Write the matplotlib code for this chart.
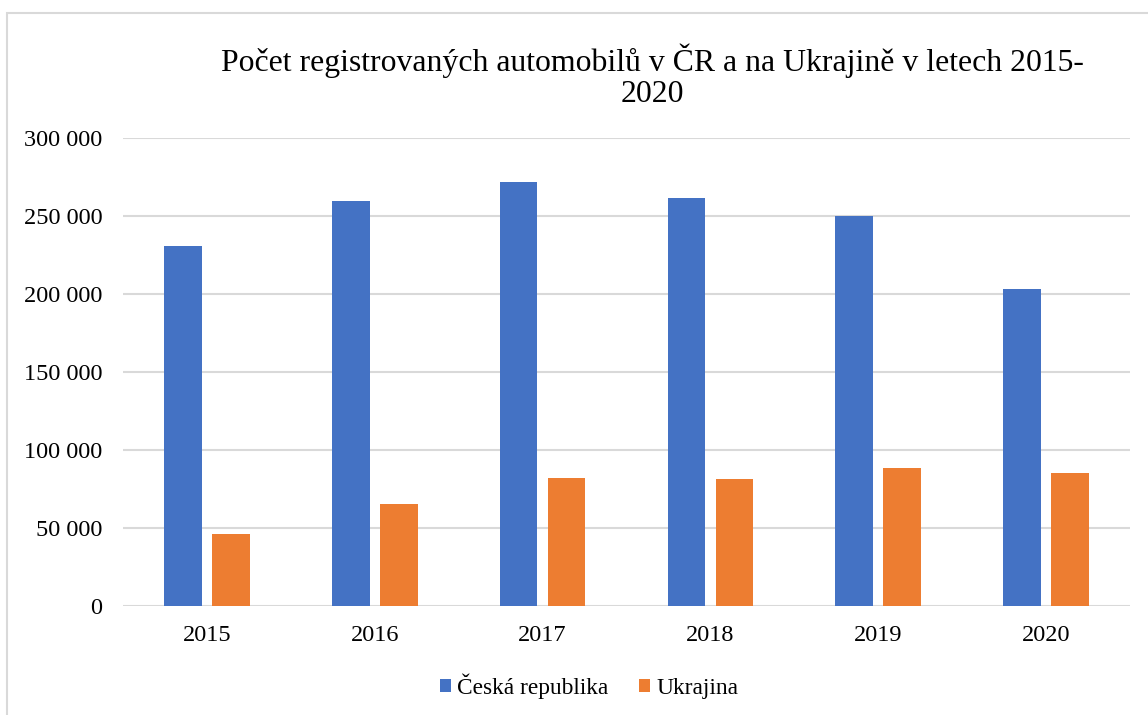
import matplotlib.pyplot as plt
import numpy as np
from matplotlib.patches import Rectangle
from matplotlib.ticker import FuncFormatter

plt.rcParams['font.family'] = ['Liberation Serif', 'DejaVu Serif']

years = ["2015", "2016", "2017", "2018", "2019", "2020"]
cesko = [231000, 259800, 271700, 261400, 250000, 203200]
ukrajina = [46300, 65400, 82100, 81500, 88500, 85400]

blue = "#4472C4"
orange = "#ED7D31"
grid = "#D9D9D9"

W, H = 1148, 715
fig = plt.figure(figsize=(W / 100, H / 100), dpi=100)

# outer chart frame (cropped on the right and bottom)
fig.patches.append(Rectangle((7 / W, -0.1), 1.2, 1 - 13 / H + 0.1, transform=fig.transFigure,
                             fill=False, edgecolor=grid, lw=1.5))

ax = fig.add_axes([123 / W, 1 - 606 / H, (1130 - 123) / W, (606 - 138) / H])
x = np.arange(len(years))
w = 0.225
off = 0.143
ax.bar(x - off, cesko, w, color=blue, label="Česká republika", zorder=3)
ax.bar(x + off, ukrajina, w, color=orange, label="Ukrajina", zorder=3)

ax.set_xlim(-0.5, len(years) - 0.5)
ax.set_ylim(0, 300000)
ax.set_yticks(range(0, 300001, 50000))
ax.yaxis.set_major_formatter(FuncFormatter(lambda v, p: f"{int(v):,}".replace(",", " ")))
ax.set_xticks(x)
ax.set_xticklabels(years)
ax.tick_params(axis='both', length=0, labelsize=17.5, colors="#000000")
ax.tick_params(axis='y', pad=15)
ax.tick_params(axis='x', pad=14)
ax.grid(axis='y', color=grid, lw=1.5, zorder=0)
for s in ax.spines.values():
    s.set_visible(False)

fig.text(652 / W, 1 - 76 / H, "Počet registrovaných automobilů v ČR a na Ukrajině v letech 2015-\n2020",
         ha='center', va='center', fontsize=22.9, linespacing=1.08)

fig.legend(loc='center', bbox_to_anchor=(589 / W, 1 - 686 / H), ncol=2, frameon=False,
           fontsize=16.8, handlelength=0.5, handleheight=0.5, handletextpad=0.25, columnspacing=1.3)

fig.savefig("out.png", dpi=100)
